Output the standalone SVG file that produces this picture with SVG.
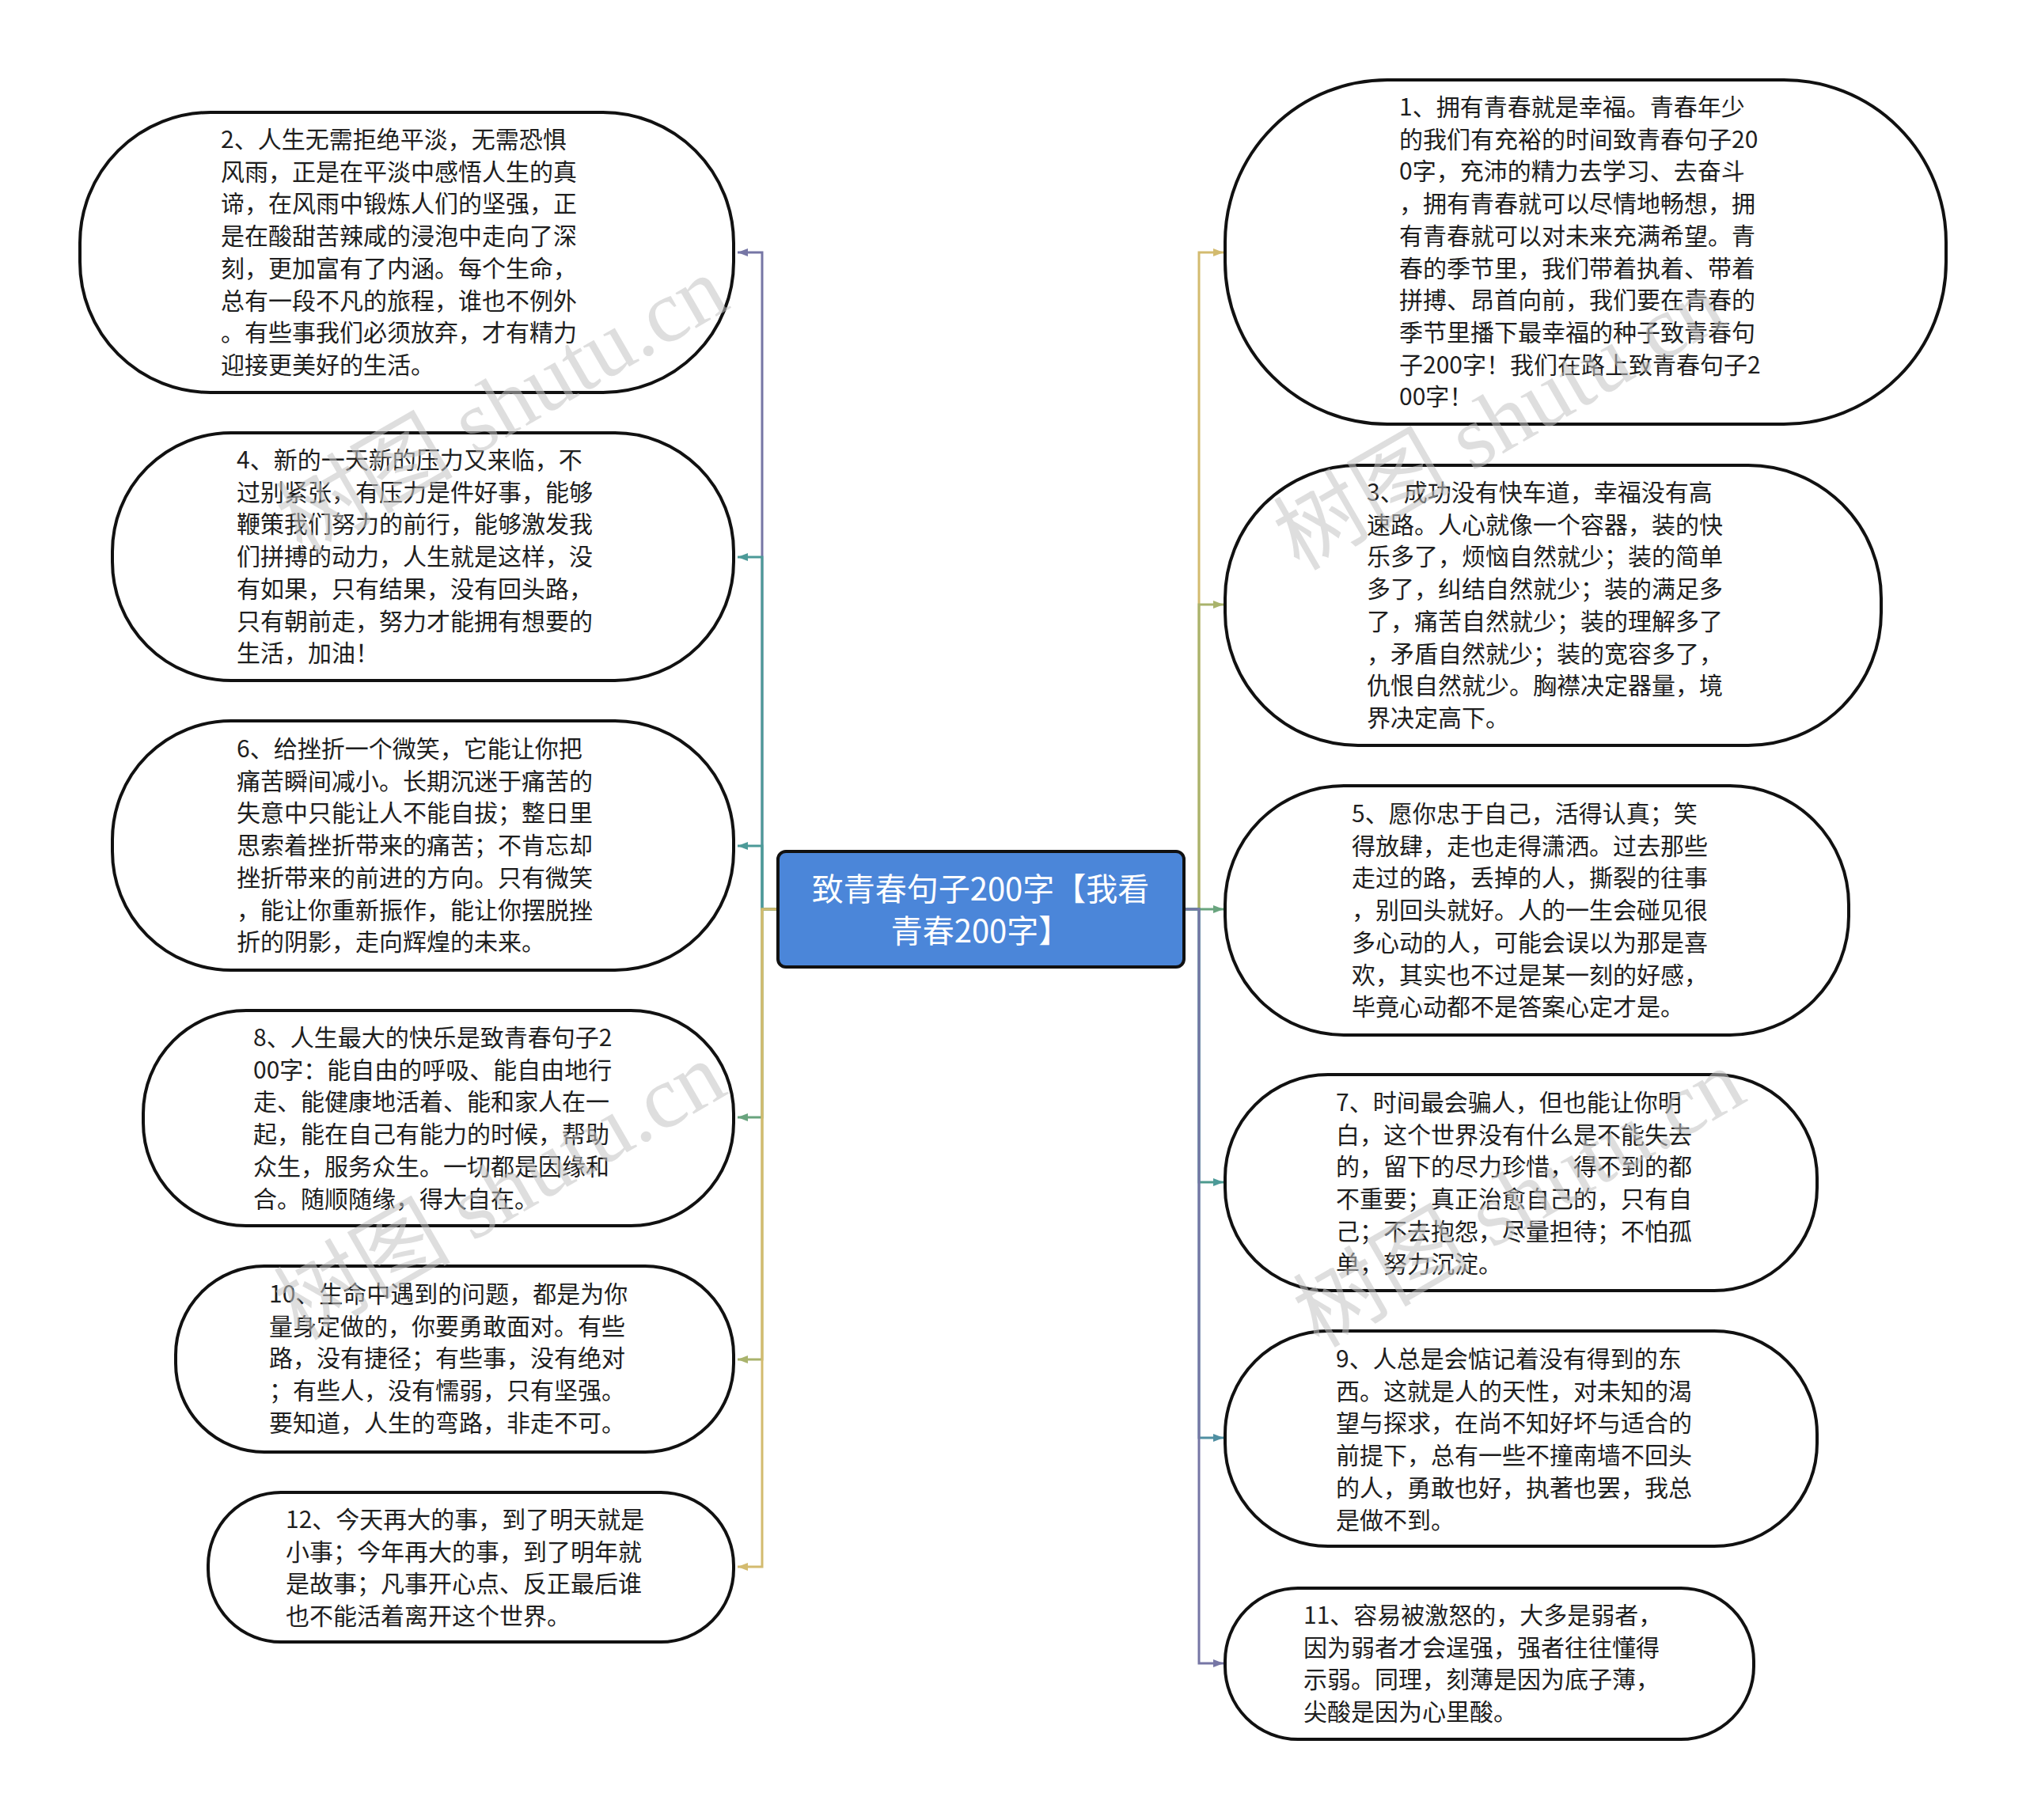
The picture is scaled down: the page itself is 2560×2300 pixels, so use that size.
<svg xmlns="http://www.w3.org/2000/svg" width="2560" height="2300" viewBox="0 0 2560 2300">
<style>
.node{fill:#ffffff;stroke:#111111;stroke-width:4}
.t{font-family:"Noto Sans CJK SC","Noto Sans",sans-serif;font-size:30px;fill:#1e1e1e}
.ct{font-family:"Noto Sans CJK SC","Noto Sans",sans-serif;font-size:40px;fill:#ffffff;text-anchor:middle}
.c{fill:none;stroke-width:3}
.wm{font-family:"Liberation Serif","Noto Sans CJK SC",serif;font-size:112px;fill:#c4c4c4;opacity:0.55}
</style>
<defs>
<marker id="a-gold" markerUnits="userSpaceOnUse" markerWidth="14" markerHeight="12" refX="13" refY="6" orient="auto"><path d="M0,1 L13,6 L0,11 z" fill="#d3bb6f"/></marker>
<marker id="a-olive" markerUnits="userSpaceOnUse" markerWidth="14" markerHeight="12" refX="13" refY="6" orient="auto"><path d="M0,1 L13,6 L0,11 z" fill="#a9b36c"/></marker>
<marker id="a-green" markerUnits="userSpaceOnUse" markerWidth="14" markerHeight="12" refX="13" refY="6" orient="auto"><path d="M0,1 L13,6 L0,11 z" fill="#69a47e"/></marker>
<marker id="a-teal" markerUnits="userSpaceOnUse" markerWidth="14" markerHeight="12" refX="13" refY="6" orient="auto"><path d="M0,1 L13,6 L0,11 z" fill="#4c9a98"/></marker>
<marker id="a-blue" markerUnits="userSpaceOnUse" markerWidth="14" markerHeight="12" refX="13" refY="6" orient="auto"><path d="M0,1 L13,6 L0,11 z" fill="#4f8fa2"/></marker>
<marker id="a-purple" markerUnits="userSpaceOnUse" markerWidth="14" markerHeight="12" refX="13" refY="6" orient="auto"><path d="M0,1 L13,6 L0,11 z" fill="#7676a5"/></marker>
</defs>
<rect width="2560" height="2300" fill="#ffffff"/>

<g id="connectors">
<path class="c" stroke="#d3bb6f" d="M1496,1149 H1515 V319 H1546" marker-end="url(#a-gold)"/>
<path class="c" stroke="#a9b36c" d="M1496,1149 H1515 V764 H1546" marker-end="url(#a-olive)"/>
<path class="c" stroke="#69a47e" d="M1496,1149 H1515 V1149 H1546" marker-end="url(#a-green)"/>
<path class="c" stroke="#4c9a8e" d="M1496,1149 H1515 V1494 H1546" marker-end="url(#a-teal)"/>
<path class="c" stroke="#4f8fa2" d="M1496,1149 H1515 V1817 H1546" marker-end="url(#a-blue)"/>
<path class="c" stroke="#7676a5" d="M1496,1149 H1515 V2102 H1546" marker-end="url(#a-purple)"/>
<path class="c" stroke="#7676a5" d="M983,1149 H963 V319 H932" marker-end="url(#a-purple)"/>
<path class="c" stroke="#4c9a98" d="M983,1149 H963 V704 H932" marker-end="url(#a-teal)"/>
<path class="c" stroke="#4c9a98" d="M983,1149 H963 V1069 H932" marker-end="url(#a-teal)"/>
<path class="c" stroke="#69a47e" d="M983,1149 H963 V1412 H932" marker-end="url(#a-green)"/>
<path class="c" stroke="#a9b36c" d="M983,1149 H963 V1718 H932" marker-end="url(#a-olive)"/>
<path class="c" stroke="#d3bb6f" d="M983,1149 H963 V1980 H932" marker-end="url(#a-gold)"/>
</g>

<g id="center">
<rect x="983" y="1076" width="513" height="146" rx="10" fill="#4b86d9" stroke="#111111" stroke-width="4"/>
<text class="ct" x="1239" y="1138">致青春句子200字【我看</text>
<text class="ct" x="1239" y="1191">青春200字】</text>
</g>

<g id="node1">
<rect class="node" x="1548" y="101" width="911" height="435" rx="205" ry="205"/>
<text class="t" x="1768" y="146">
<tspan x="1768" dy="0">1、拥有青春就是幸福。青春年少</tspan>
<tspan x="1768" dy="40.7">的我们有充裕的时间致青春句子20</tspan>
<tspan x="1768" dy="40.7">0字，充沛的精力去学习、去奋斗</tspan>
<tspan x="1768" dy="40.7">，拥有青春就可以尽情地畅想，拥</tspan>
<tspan x="1768" dy="40.7">有青春就可以对未来充满希望。青</tspan>
<tspan x="1768" dy="40.7">春的季节里，我们带着执着、带着</tspan>
<tspan x="1768" dy="40.7">拼搏、昂首向前，我们要在青春的</tspan>
<tspan x="1768" dy="40.7">季节里播下最幸福的种子致青春句</tspan>
<tspan x="1768" dy="40.7">子200字！我们在路上致青春句子2</tspan>
<tspan x="1768" dy="40.7">00字！</tspan>
</text>
</g>

<g id="node3">
<rect class="node" x="1548" y="588" width="829" height="354" rx="168" ry="168"/>
<text class="t" x="1727" y="633">
<tspan x="1727" dy="0">3、成功没有快车道，幸福没有高</tspan>
<tspan x="1727" dy="40.7">速路。人心就像一个容器，装的快</tspan>
<tspan x="1727" dy="40.7">乐多了，烦恼自然就少；装的简单</tspan>
<tspan x="1727" dy="40.7">多了，纠结自然就少；装的满足多</tspan>
<tspan x="1727" dy="40.7">了，痛苦自然就少；装的理解多了</tspan>
<tspan x="1727" dy="40.7">，矛盾自然就少；装的宽容多了，</tspan>
<tspan x="1727" dy="40.7">仇恨自然就少。胸襟决定器量，境</tspan>
<tspan x="1727" dy="40.7">界决定高下。</tspan>
</text>
</g>

<g id="node5">
<rect class="node" x="1548" y="993" width="788" height="315" rx="150" ry="150"/>
<text class="t" x="1708" y="1039">
<tspan x="1708" dy="0">5、愿你忠于自己，活得认真；笑</tspan>
<tspan x="1708" dy="40.7">得放肆，走也走得潇洒。过去那些</tspan>
<tspan x="1708" dy="40.7">走过的路，丢掉的人，撕裂的往事</tspan>
<tspan x="1708" dy="40.7">，别回头就好。人的一生会碰见很</tspan>
<tspan x="1708" dy="40.7">多心动的人，可能会误以为那是喜</tspan>
<tspan x="1708" dy="40.7">欢，其实也不过是某一刻的好感，</tspan>
<tspan x="1708" dy="40.7">毕竟心动都不是答案心定才是。</tspan>
</text>
</g>

<g id="node7">
<rect class="node" x="1548" y="1358" width="748" height="273" rx="130" ry="130"/>
<text class="t" x="1688" y="1404">
<tspan x="1688" dy="0">7、时间最会骗人，但也能让你明</tspan>
<tspan x="1688" dy="40.7">白，这个世界没有什么是不能失去</tspan>
<tspan x="1688" dy="40.7">的，留下的尽力珍惜，得不到的都</tspan>
<tspan x="1688" dy="40.7">不重要；真正治愈自己的，只有自</tspan>
<tspan x="1688" dy="40.7">己；不去抱怨，尽量担待；不怕孤</tspan>
<tspan x="1688" dy="40.7">单，努力沉淀。</tspan>
</text>
</g>

<g id="node9">
<rect class="node" x="1548" y="1682" width="748" height="272" rx="130" ry="130"/>
<text class="t" x="1688" y="1728">
<tspan x="1688" dy="0">9、人总是会惦记着没有得到的东</tspan>
<tspan x="1688" dy="40.7">西。这就是人的天性，对未知的渴</tspan>
<tspan x="1688" dy="40.7">望与探求，在尚不知好坏与适合的</tspan>
<tspan x="1688" dy="40.7">前提下，总有一些不撞南墙不回头</tspan>
<tspan x="1688" dy="40.7">的人，勇敢也好，执著也罢，我总</tspan>
<tspan x="1688" dy="40.7">是做不到。</tspan>
</text>
</g>

<g id="node11">
<rect class="node" x="1548" y="2007" width="668" height="191" rx="92" ry="92"/>
<text class="t" x="1647" y="2052">
<tspan x="1647" dy="0">11、容易被激怒的，大多是弱者，</tspan>
<tspan x="1647" dy="40.7">因为弱者才会逞强，强者往往懂得</tspan>
<tspan x="1647" dy="40.7">示弱。同理，刻薄是因为底子薄，</tspan>
<tspan x="1647" dy="40.7">尖酸是因为心里酸。</tspan>
</text>
</g>

<g id="node2">
<rect class="node" x="101" y="142" width="826" height="354" rx="165" ry="165"/>
<text class="t" x="279" y="187">
<tspan x="279" dy="0">2、人生无需拒绝平淡，无需恐惧</tspan>
<tspan x="279" dy="40.7">风雨，正是在平淡中感悟人生的真</tspan>
<tspan x="279" dy="40.7">谛，在风雨中锻炼人们的坚强，正</tspan>
<tspan x="279" dy="40.7">是在酸甜苦辣咸的浸泡中走向了深</tspan>
<tspan x="279" dy="40.7">刻，更加富有了内涵。每个生命，</tspan>
<tspan x="279" dy="40.7">总有一段不凡的旅程，谁也不例外</tspan>
<tspan x="279" dy="40.7">。有些事我们必须放弃，才有精力</tspan>
<tspan x="279" dy="40.7">迎接更美好的生活。</tspan>
</text>
</g>

<g id="node4">
<rect class="node" x="142" y="547" width="785" height="313" rx="150" ry="150"/>
<text class="t" x="299" y="592">
<tspan x="299" dy="0">4、新的一天新的压力又来临，不</tspan>
<tspan x="299" dy="40.7">过别紧张，有压力是件好事，能够</tspan>
<tspan x="299" dy="40.7">鞭策我们努力的前行，能够激发我</tspan>
<tspan x="299" dy="40.7">们拼搏的动力，人生就是这样，没</tspan>
<tspan x="299" dy="40.7">有如果，只有结果，没有回头路，</tspan>
<tspan x="299" dy="40.7">只有朝前走，努力才能拥有想要的</tspan>
<tspan x="299" dy="40.7">生活，加油！</tspan>
</text>
</g>

<g id="node6">
<rect class="node" x="142" y="911" width="785" height="315" rx="150" ry="150"/>
<text class="t" x="299" y="957">
<tspan x="299" dy="0">6、给挫折一个微笑，它能让你把</tspan>
<tspan x="299" dy="40.7">痛苦瞬间减小。长期沉迷于痛苦的</tspan>
<tspan x="299" dy="40.7">失意中只能让人不能自拔；整日里</tspan>
<tspan x="299" dy="40.7">思索着挫折带来的痛苦；不肯忘却</tspan>
<tspan x="299" dy="40.7">挫折带来的前进的方向。只有微笑</tspan>
<tspan x="299" dy="40.7">，能让你重新振作，能让你摆脱挫</tspan>
<tspan x="299" dy="40.7">折的阴影，走向辉煌的未来。</tspan>
</text>
</g>

<g id="node8">
<rect class="node" x="181" y="1277" width="746" height="272" rx="130" ry="130"/>
<text class="t" x="320" y="1322">
<tspan x="320" dy="0">8、人生最大的快乐是致青春句子2</tspan>
<tspan x="320" dy="40.7">00字：能自由的呼吸、能自由地行</tspan>
<tspan x="320" dy="40.7">走、能健康地活着、能和家人在一</tspan>
<tspan x="320" dy="40.7">起，能在自己有能力的时候，帮助</tspan>
<tspan x="320" dy="40.7">众生，服务众生。一切都是因缘和</tspan>
<tspan x="320" dy="40.7">合。随顺随缘，得大自在。</tspan>
</text>
</g>

<g id="node10">
<rect class="node" x="222" y="1600" width="705" height="235" rx="112" ry="112"/>
<text class="t" x="340" y="1646">
<tspan x="340" dy="0">10、生命中遇到的问题，都是为你</tspan>
<tspan x="340" dy="40.7">量身定做的，你要勇敢面对。有些</tspan>
<tspan x="340" dy="40.7">路，没有捷径；有些事，没有绝对</tspan>
<tspan x="340" dy="40.7">；有些人，没有懦弱，只有坚强。</tspan>
<tspan x="340" dy="40.7">要知道，人生的弯路，非走不可。</tspan>
</text>
</g>

<g id="node12">
<rect class="node" x="263" y="1886" width="664" height="189" rx="92" ry="92"/>
<text class="t" x="361" y="1931">
<tspan x="361" dy="0">12、今天再大的事，到了明天就是</tspan>
<tspan x="361" dy="40.7">小事；今年再大的事，到了明年就</tspan>
<tspan x="361" dy="40.7">是故事；凡事开心点、反正最后谁</tspan>
<tspan x="361" dy="40.7">也不能活着离开这个世界。</tspan>
</text>
</g>

<g id="watermarks">
<text class="wm" x="635" y="550" text-anchor="middle" transform="rotate(-30 635 513)">树图 shutu.cn</text>
<text class="wm" x="1895" y="570" text-anchor="middle" transform="rotate(-30 1895 533)">树图 shutu.cn</text>
<text class="wm" x="632" y="1543" text-anchor="middle" transform="rotate(-30 632 1506)">树图 shutu.cn</text>
<text class="wm" x="1920" y="1552" text-anchor="middle" transform="rotate(-30 1920 1515)">树图 shutu.cn</text>
</g>
</svg>
